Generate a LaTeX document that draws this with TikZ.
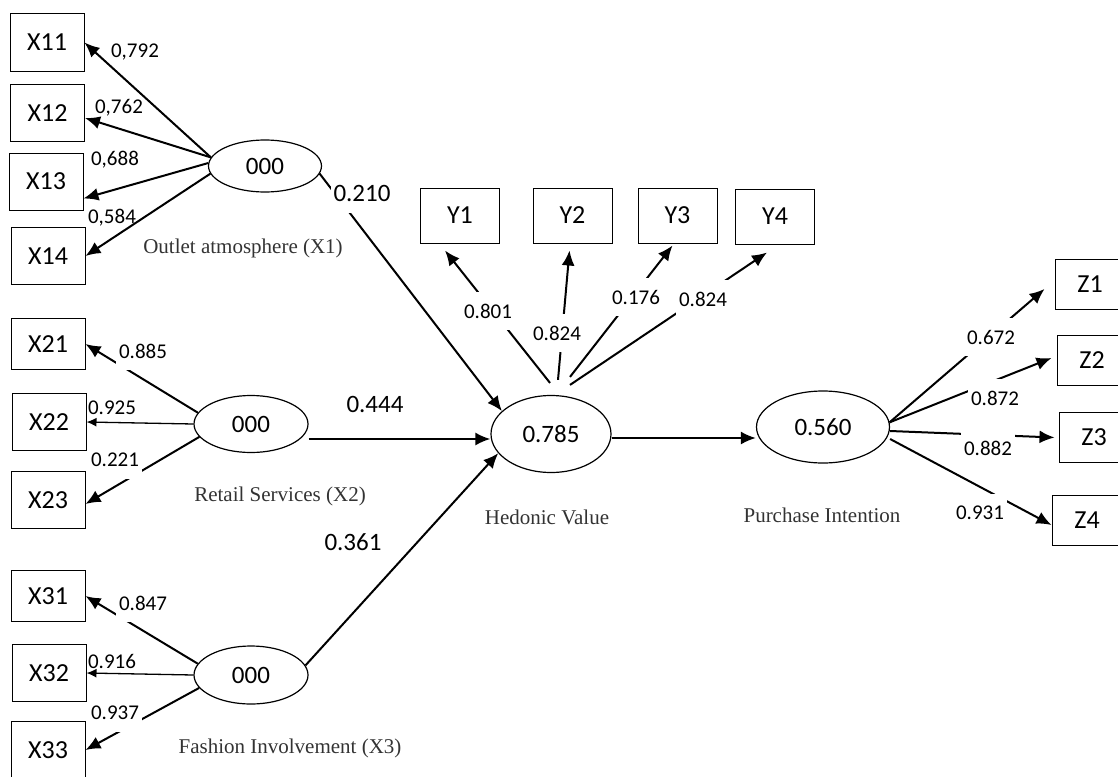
\documentclass[tikz,border=0pt]{standalone}
\usepackage{fontspec}
\newfontfamily\calfont{Carlito}
\newfontfamily\timesfont{Liberation Serif}
\usetikzlibrary{arrows.meta, positioning, shapes.geometric}

\begin{document}
\begin{tikzpicture}[x=1pt, y=-1pt,
  box/.style={draw, line width=1pt, minimum width=74pt, minimum height=57pt, inner sep=0pt, font=\calfont\fontsize{26}{30}\selectfont},
  ybox/.style={box, minimum width=79pt, minimum height=55pt},
  zbox/.style={box, minimum width=70pt, minimum height=50pt},
  lv/.style={draw, ellipse, line width=1.2pt, inner sep=0pt, font=\calfont\fontsize{25}{30}\selectfont},
  lvname/.style={font=\timesfont\fontsize{21}{25}\selectfont, text=black!80},
  load/.style={font=\calfont\fontsize{21}{25}\selectfont, inner sep=1pt},
  gap/.style={load, fill=white, inner xsep=3pt, inner ysep=12pt},
  coef/.style={gap, font=\calfont\fontsize{25}{30}\selectfont},
  arr/.style={-{Latex[length=15pt, width=13pt]}, line width=2pt},
  thinarr/.style={-{Latex[length=10pt, width=9pt]}, line width=1.3pt}
]
\useasboundingbox (0,0) rectangle (1118,776);

\node[box] (x11) at (47,42.5) {X11};
\node[box] (x12) at (47.5,113) {X12};
\node[box] (x13) at (46,181.5) {X13};
\node[box] (x14) at (48,256) {X14};
\node[box, minimum height=51pt] (x21) at (48,344) {X21};
\node[box] (x22) at (49,422) {X22};
\node[box] (x23) at (48,500) {X23};
\node[box, minimum height=51pt] (x31) at (48,596) {X31};
\node[box] (x32) at (49,673) {X32};
\node[box] (x33) at (48,750) {X33};

\node[ybox] (y1) at (460,215.5) {Y1};
\node[ybox] (y2) at (572.5,215.5) {Y2};
\node[ybox] (y3) at (677.5,215.5) {Y3};
\node[ybox] (y4) at (775,216.5) {Y4};

\node[zbox] (z1) at (1090,284) {Z1};
\node[zbox] (z2) at (1092,360) {Z2};
\node[zbox] (z3) at (1094,437.5) {Z3};
\node[zbox] (z4) at (1087,520) {Z4};

\node[lv, minimum width=113pt, minimum height=52pt] (atm) at (265,166) {000};
\node[lv, minimum width=114pt, minimum height=57pt] (serv) at (251,424) {000};
\node[lv, minimum width=114pt, minimum height=58pt] (fash) at (251,675) {000};
\node[lv, minimum width=120pt, minimum height=77pt] (hed) at (551,434) {0.785};
\node[lv, minimum width=133pt, minimum height=72pt] (pur) at (823,427) {0.560};

\node[lvname] (atmlab) at (243,248) {Outlet atmosphere (X1)};
\node[lvname] (servlab) at (280,496) {Retail Services (X2)};
\node[lvname] (fashlab) at (290,748) {Fashion Involvement (X3)};
\node[lvname] (hedlab) at (547,517) {Hedonic Value};
\node[lvname] (purlab) at (822,515) {Purchase Intention};

\draw[arr] (atm.171) -- (x11.east);
\draw[arr] (atm.171) -- ([yshift=-5pt]x12.east);
\draw[arr] (atm.177) -- ([yshift=-17pt]x13.east);
\draw[arr] (atm.188) -- (x14.east);
\draw[arr] (serv.168) -- (x21.east);
\draw[thinarr] (serv.west) -- (x22.east);
\draw[arr] (serv.194) -- ([yshift=-4pt]x23.east);
\draw[arr] (fash.168) -- (x31.east);
\draw[thinarr] (fash.west) -- (x32.east);
\draw[arr] (fash.194) -- (x33.east);

\draw[arr] (atm.-8) -- (hed.155);
\draw[arr] ([yshift=-15pt]serv.east) -- ([yshift=-5pt]hed.west);
\draw[arr] (fash.10) -- (hed.200);
\draw[arr] ([yshift=-4pt]hed.east) -- ([yshift=-11pt]pur.west);

\draw[arr] ([xshift=-1pt,yshift=12pt]hed.north) -- ([xshift=-15pt,yshift=-7pt]y1.south);
\draw[arr] ([xshift=7pt,yshift=15pt]hed.north) -- ([xshift=-3pt,yshift=-7pt]y2.south);
\draw[arr] ([xshift=19pt,yshift=18pt]hed.north) -- ([xshift=-5pt,yshift=-2pt]y3.south);
\draw[arr] ([xshift=19pt,yshift=10pt]hed.north) -- ([xshift=-8pt,yshift=-8pt]y4.south);

\draw[arr] (pur.4) -- ([xshift=-10pt,yshift=-5pt]z1.west);
\draw[arr] (pur.4) -- ([xshift=-5pt,yshift=2pt]z2.west);
\draw[arr] ([yshift=-4pt]pur.east) -- ([xshift=-4pt]z3.west);
\draw[arr] ([yshift=-12pt]pur.east) -- ([yshift=-5pt]z4.west);

\node[load] (l11) at (135,52) {0,792};
\node[load] (l12) at (119,108) {0,762};
\node[load] (l13) at (115,160) {0,688};
\node[load] (l14) at (112,218) {0,584};
\node[gap] (l21) at (143,351) {0.885};
\node[load] (l22) at (112,408) {0.925};
\node[gap] (l23) at (115,460) {0.221};
\node[gap] (l31) at (143,603) {0.847};
\node[load] (l32) at (112,661) {0.916};
\node[gap] (l33) at (115,713) {0.937};

\node[gap] (ly1) at (488,311) {0.801};
\node[gap] (ly2) at (557,333) {0.824};
\node[gap] (ly3) at (636,297) {0.176};
\node[gap] (ly4) at (703,299) {0.824};

\node[gap] (lz1) at (991,337) {0.672};
\node[gap] (lz2) at (995,398) {0.872};
\node[gap] (lz3) at (988,448) {0.882};
\node[gap] (lz4) at (980,513) {0.931};

\node[coef] (p1) at (362,193) {0.210};
\node[coef] (p2) at (375,404) {0.444};
\node[coef] (p3) at (353,542) {0.361};
\end{tikzpicture}
\end{document}
